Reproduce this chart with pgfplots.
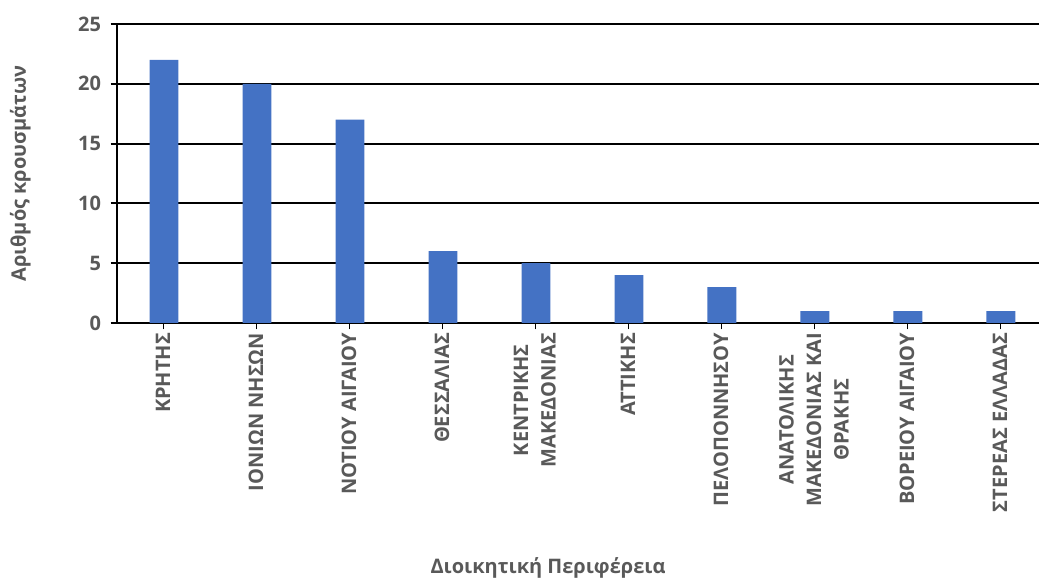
\documentclass[border=0pt]{standalone}
\usepackage{fontspec}
\setmainfont{Open Sans}
\usepackage{pgfplots}
\pgfplotsset{compat=1.18}
\definecolor{barblue}{HTML}{4472C4}
\definecolor{txt}{HTML}{595959}
\begin{document}
\begin{tikzpicture}
\path[use as bounding box] (0,0) rectangle (1039pt,583pt);
\begin{axis}[
  at={(117pt,260pt)}, anchor=south west,
  scale only axis, width=922pt, height=299pt,
  xmin=-0.505, xmax=9.41, ymin=0, ymax=25,
  ytick={0,5,10,15,20,25},
  xtick={0,1,2,3,4,5,6,7,8,9},
  xticklabels={{ΚΡΗΤΗΣ},{ΙΟΝΙΩΝ ΝΗΣΩΝ},{ΝΟΤΙΟΥ ΑΙΓΑΙΟΥ},{ΘΕΣΣΑΛΙΑΣ},{ΚΕΝΤΡΙΚΗΣ\\ΜΑΚΕΔΟΝΙΑΣ},{ΑΤΤΙΚΗΣ},{ΠΕΛΟΠΟΝΝΗΣΟΥ},{ΑΝΑΤΟΛΙΚΗΣ\\ΜΑΚΕΔΟΝΙΑΣ ΚΑΙ\\ΘΡΑΚΗΣ},{ΒΟΡΕΙΟΥ ΑΙΓΑΙΟΥ},{ΣΤΕΡΕΑΣ ΕΛΛΑΔΑΣ}},
  axis x line*=bottom, axis y line*=left,
  x axis line style={black, line width=2pt, -},
  y axis line style={black, line width=1.5pt, -},
  ymajorgrids, grid style={black, line width=2pt},
  tick align=outside, major tick length=6.5pt,
  xtick style={black, line width=1pt},
  ytick style={black, line width=2pt},
  /pgf/number format/assume math mode=true,
  yticklabel style={font=\fontsize{20}{24}\selectfont\bfseries, text=txt, xshift=-6pt},
  xticklabel style={font=\fontsize{20}{27.5}\selectfont\bfseries, text=txt, rotate=90, anchor=east, align=center, yshift=1pt},
  xlabel={Διοικητική Περιφέρεια},
  ylabel={Αριθμός κρουσμάτων},
  xlabel style={font=\fontsize{20}{24}\selectfont\bfseries, text=txt, at={(axis description cs:0.4675,-0.819)}, anchor=center},
  ylabel style={font=\fontsize{20}{24}\selectfont\bfseries, text=txt, at={(axis description cs:-0.105,0.5)}, anchor=center},
]
\addplot[ybar, bar width=0.31, fill=barblue, draw=none] coordinates {
  (0,22) (1,20) (2,17) (3,6) (4,5) (5,4) (6,3) (7,1) (8,1) (9,1)
};
\end{axis}
\end{tikzpicture}
\end{document}
